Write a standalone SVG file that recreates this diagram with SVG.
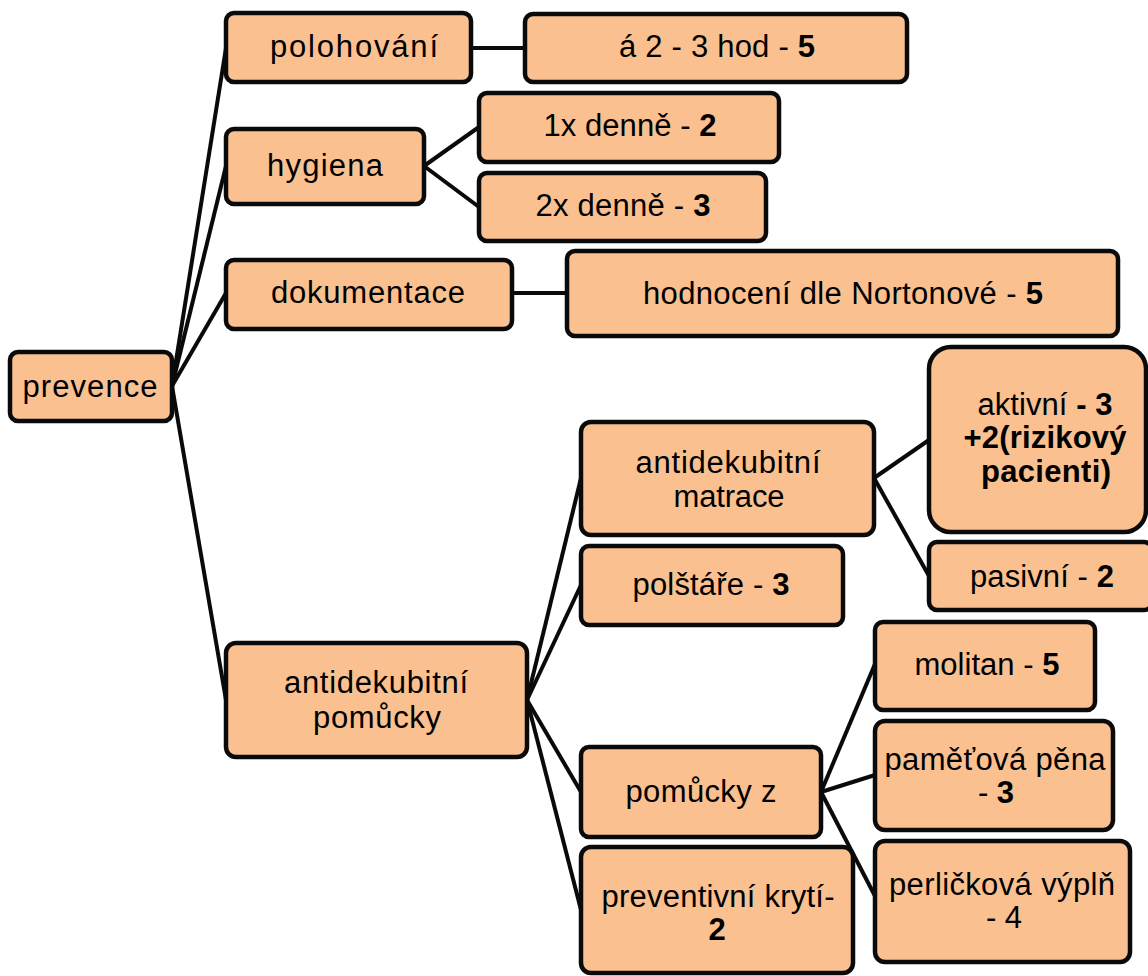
<svg xmlns="http://www.w3.org/2000/svg" width="1148" height="976" viewBox="0 0 1148 976">
<style>
.box{fill:#FAC090;stroke:#0a0a0a;stroke-width:4.5}
.lnk{stroke:#0a0a0a;stroke-width:4;fill:none}
text{font-family:"Liberation Sans",Arial,sans-serif;font-size:31px;fill:#000;text-anchor:middle}
.b{font-weight:bold}
</style>
<rect width="1148" height="976" fill="#fff"/>
<g id="connectors">
<line class="lnk" x1="172" y1="386" x2="226" y2="48"/>
<line class="lnk" x1="172" y1="386" x2="226" y2="166"/>
<line class="lnk" x1="172" y1="386" x2="226" y2="293"/>
<line class="lnk" x1="172" y1="386" x2="226" y2="700"/>
<line class="lnk" x1="471" y1="48" x2="525" y2="48"/>
<line class="lnk" x1="424" y1="166" x2="479" y2="127"/>
<line class="lnk" x1="424" y1="166" x2="479" y2="207"/>
<line class="lnk" x1="512" y1="293" x2="567" y2="293"/>
<line class="lnk" x1="527" y1="700" x2="581" y2="478"/>
<line class="lnk" x1="527" y1="700" x2="581" y2="585"/>
<line class="lnk" x1="527" y1="700" x2="581" y2="792"/>
<line class="lnk" x1="527" y1="700" x2="581" y2="910"/>
<line class="lnk" x1="874" y1="478" x2="929" y2="440"/>
<line class="lnk" x1="874" y1="478" x2="929" y2="576"/>
<line class="lnk" x1="821" y1="792" x2="875" y2="664"/>
<line class="lnk" x1="821" y1="792" x2="875" y2="775"/>
<line class="lnk" x1="821" y1="792" x2="875" y2="896"/>
</g>
<g id="prevence"><rect class="box" x="10" y="352" width="162" height="69" rx="8"/><text x="90" y="397" textLength="135" lengthAdjust="spacing">prevence</text></g>
<g id="polohovani"><rect class="box" x="226" y="13" width="245" height="69" rx="8"/><text x="354" y="57" textLength="168" lengthAdjust="spacing">polohování</text></g>
<g id="a23hod"><rect class="box" x="525" y="14" width="382" height="68" rx="8"/><text x="717" y="57" textLength="196" lengthAdjust="spacing">á 2 - 3 hod - <tspan class="b">5</tspan></text></g>
<g id="hygiena"><rect class="box" x="226" y="129" width="198" height="75" rx="8"/><text x="325" y="176" textLength="116" lengthAdjust="spacing">hygiena</text></g>
<g id="denne1"><rect class="box" x="479" y="93" width="300" height="69" rx="8"/><text x="630" y="136" textLength="173" lengthAdjust="spacing">1x denně - <tspan class="b">2</tspan></text></g>
<g id="denne2"><rect class="box" x="479" y="173" width="287" height="68" rx="8"/><text x="623" y="216" textLength="175" lengthAdjust="spacing">2x denně - <tspan class="b">3</tspan></text></g>
<g id="dokumentace"><rect class="box" x="226" y="260" width="286" height="69" rx="8"/><text x="368" y="303" textLength="194" lengthAdjust="spacing">dokumentace</text></g>
<g id="norton"><rect class="box" x="567" y="251" width="551" height="85" rx="8"/><text x="843" y="304" textLength="400" lengthAdjust="spacing">hodnocení dle Nortonové - <tspan class="b">5</tspan></text></g>
<g id="pomucky"><rect class="box" x="226" y="643" width="301" height="114" rx="10"/><text x="376" y="693" textLength="184" lengthAdjust="spacing">antidekubitní</text><text x="377" y="728" textLength="128" lengthAdjust="spacing">pomůcky</text></g>
<g id="matrace"><rect class="box" x="581" y="422" width="293" height="113" rx="10"/><text x="728" y="473" textLength="185" lengthAdjust="spacing">antidekubitní</text><text x="729" y="507" textLength="111" lengthAdjust="spacing">matrace</text></g>
<g id="aktivni"><rect class="box" x="929" y="347" width="217" height="185" rx="22"/><text x="1045" y="415" textLength="135" lengthAdjust="spacing">aktivní<tspan class="b"> - 3</tspan></text><text class="b" x="1045" y="448" textLength="163" lengthAdjust="spacing">+2(rizikový</text><text class="b" x="1046" y="482" textLength="130" lengthAdjust="spacing">pacienti)</text></g>
<g id="pasivni"><rect class="box" x="929" y="542" width="223" height="68" rx="8"/><text x="1042" y="587" textLength="144" lengthAdjust="spacing">pasivní - <tspan class="b">2</tspan></text></g>
<g id="polstare"><rect class="box" x="581" y="546" width="262" height="79" rx="8"/><text x="711" y="595" textLength="157" lengthAdjust="spacing">polštáře - <tspan class="b">3</tspan></text></g>
<g id="pomuckyz"><rect class="box" x="581" y="747" width="240" height="90" rx="8"/><text x="701" y="802" textLength="151" lengthAdjust="spacing">pomůcky z</text></g>
<g id="kryti"><rect class="box" x="581" y="847" width="272" height="126" rx="10"/><text x="718" y="907" textLength="233" lengthAdjust="spacing">preventivní krytí-</text><text class="b" x="717" y="940">2</text></g>
<g id="molitan"><rect class="box" x="875" y="622" width="220" height="88" rx="8"/><text x="987" y="675" textLength="145" lengthAdjust="spacing">molitan - <tspan class="b">5</tspan></text></g>
<g id="pamet"><rect class="box" x="875" y="721" width="238" height="109" rx="10"/><text x="995" y="770" textLength="221" lengthAdjust="spacing">paměťová pěna</text><text x="996" y="803">- <tspan class="b">3</tspan></text></g>
<g id="perlickova"><rect class="box" x="875" y="841" width="255" height="121" rx="10"/><text x="1002" y="895" textLength="226" lengthAdjust="spacing">perličková výplň</text><text x="1004" y="928">- 4</text></g>
</svg>
